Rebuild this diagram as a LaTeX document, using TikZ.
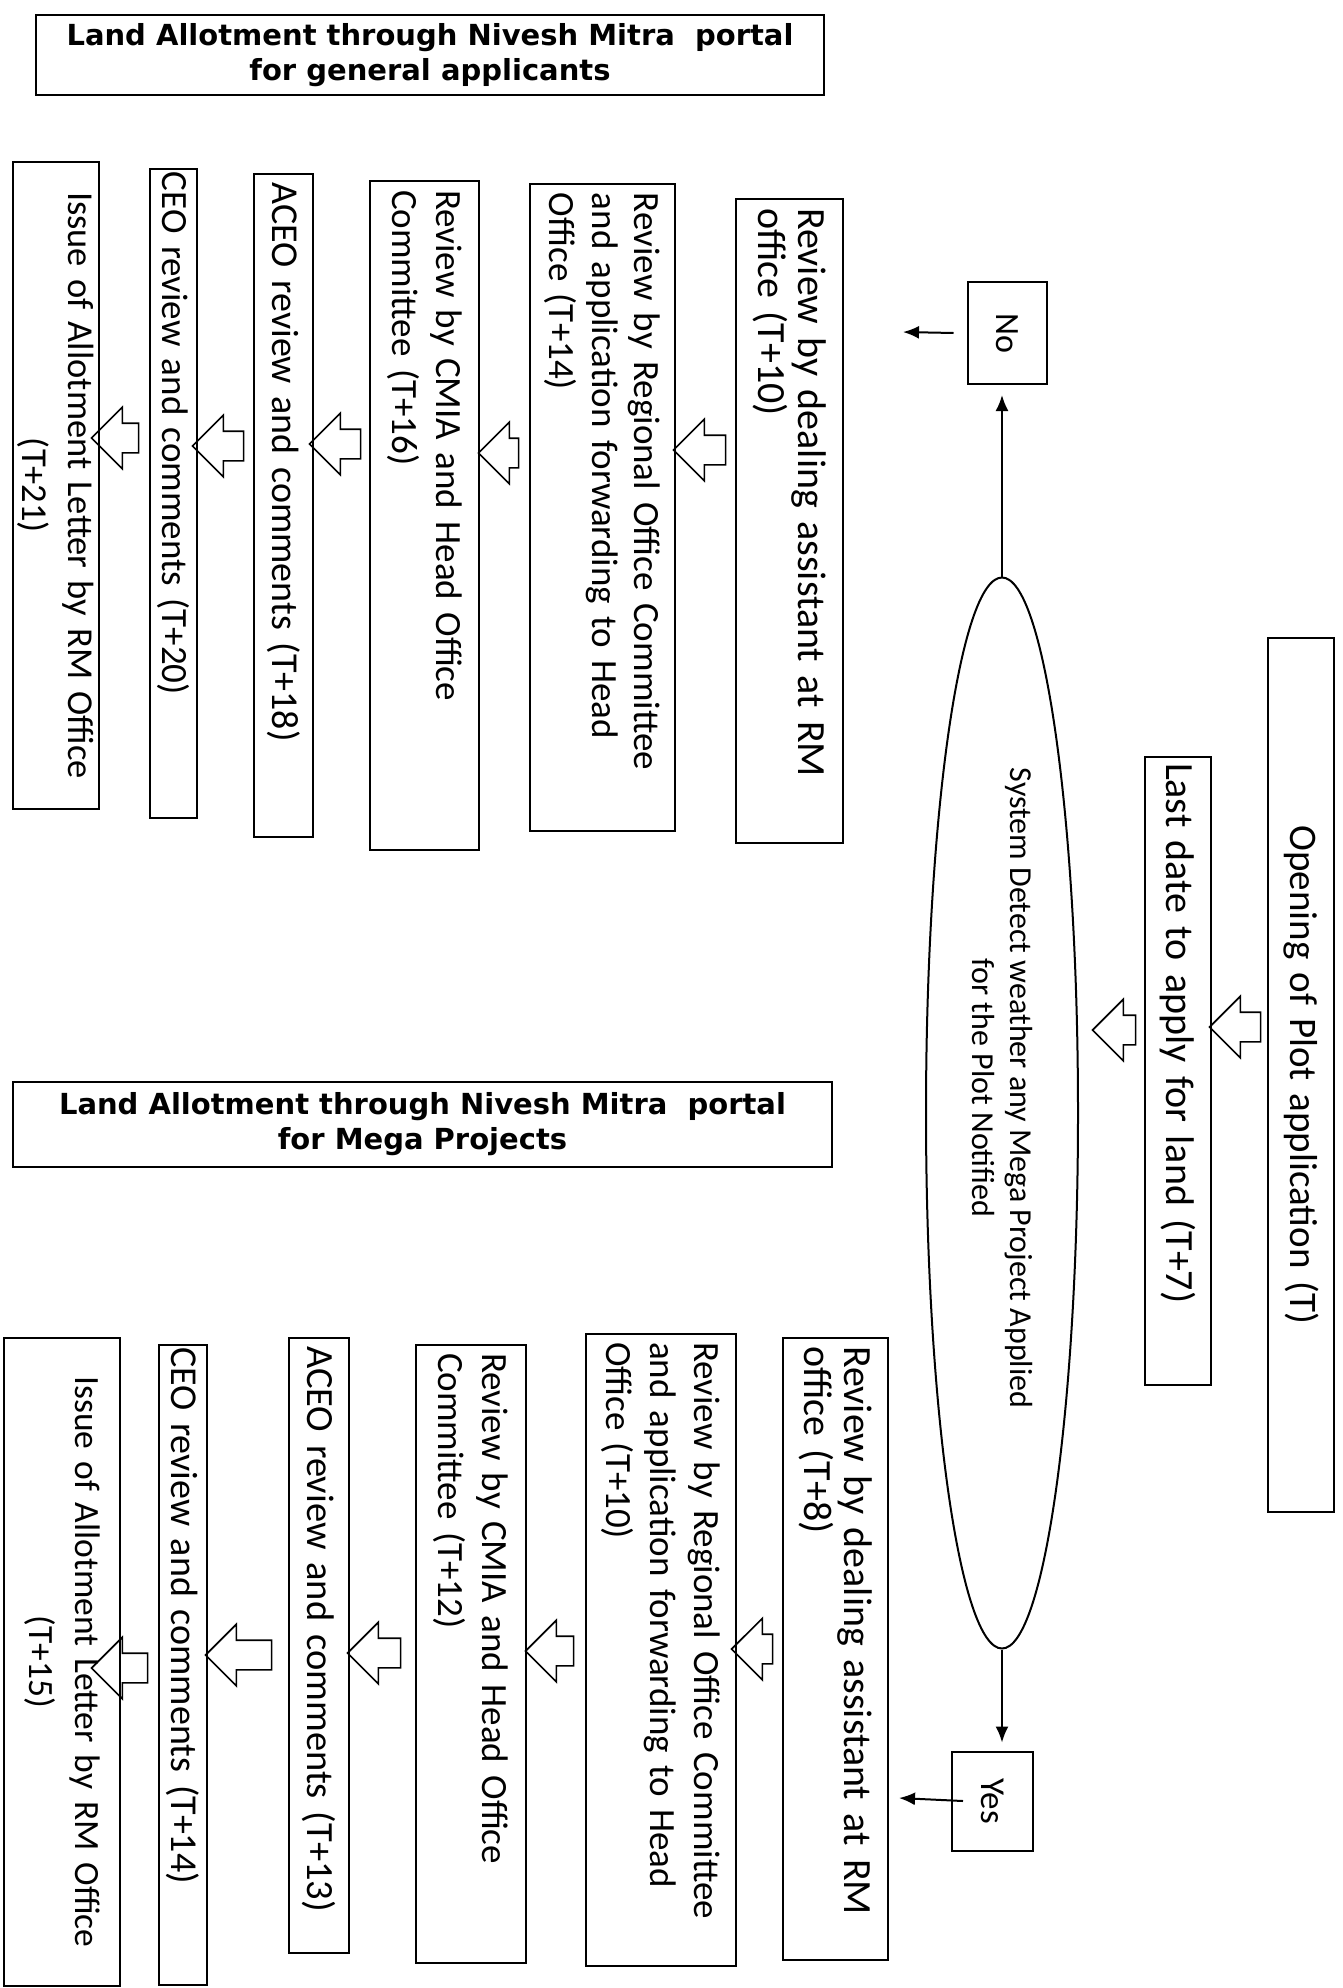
\documentclass[tikz,border=0pt]{standalone}
\usepackage{fontspec}
\setmainfont{Carlito}
\newfontfamily\titlefamily{DejaVu Sans}
\usetikzlibrary{shapes.geometric,shapes.arrows,arrows.meta}
\newcommand\fsz[2]{\fontsize{#1}{#2}\selectfont}
\tikzset{
  box/.style={draw, line width=2pt, rotate=-90, inner xsep=9pt, inner ysep=1pt, align=left},
  cbox/.style={box, align=center},
  titlebox/.style={draw, line width=2pt, inner sep=2pt, font=\titlefamily\bfseries\fsz{29}{35}, align=center},
  hol/.style={single arrow, draw, line width=1.6pt, shape border rotate=180, inner xsep=0pt, inner ysep=14pt, single arrow head extend=16pt, minimum width=0pt},
  ln/.style={line width=2pt, -{Latex[length=16pt,width=13pt]}},
}
\begin{document}
\begin{tikzpicture}[x=1pt,y=-1pt]
\useasboundingbox (0,0) rectangle (1342,1988);
\fill[white] (0,0) rectangle (1342,1988);

% titles
\node[titlebox, minimum width=788pt, minimum height=80pt] (t1) at (430,55) {Land Allotment through Nivesh Mitra\ \ portal\\for general applicants};
\node[titlebox, minimum width=819pt, minimum height=85pt] (t2) at (422.5,1124.5) {Land Allotment through Nivesh Mitra\ \ portal\\for Mega Projects};

% top flow
\node[cbox, font=\fsz{39}{44}, minimum width=874pt, minimum height=66pt, text width=856pt] (open) at (1301,1075) {Opening of Plot application (T)};
\node[box, font=\fsz{40}{44}, minimum width=628pt, minimum height=66pt, text width=616pt, inner xsep=6pt] (last) at (1178,1071) {Last date to apply for land (T+7)};
\node[draw, line width=2pt, ellipse, rotate=-90, inner sep=0pt, minimum width=1071pt, minimum height=152pt, font=\fsz{32}{38}, align=center] (ell) at (1002,1113) {System Detect weather any Mega Project Applied\hspace*{50pt}\\for the Plot Notified\hspace*{50pt}};
\node[hol, minimum height=51pt] (a0) at (1242.5,1027) {};
\node[hol, minimum height=43pt] (a1) at (1121.5,1030) {};

% decision outcomes
\node[cbox, font=\fsz{34}{40}, minimum width=102pt, minimum height=79pt] (no) at (1007,333) {No};
\node[cbox, font=\fsz{35}{40}, minimum width=99pt, minimum height=81pt] (yes) at (992.5,1801) {Yes};
\coordinate (noout) at (903,332);
\coordinate (yesout) at (899,1798);
\draw[ln, shorten >=10pt] (ell.west) -- (ell.west |- no.east);
\draw[ln, shorten >=8pt] (ell.east) -- (ell.east |- yes.west);
\draw[ln] ([xshift=-13pt]no.south) -- (noout);
\draw[ln] ([xshift=12pt]yes.south) -- (yesout);

% general applicants column
\node[box, font=\fsz{40}{40}, minimum width=644pt, minimum height=107pt, text width=626pt] (l1) at (789.5,521) {Review by dealing assistant at RM\\office (T+10)};
\node[box, font=\fsz{37}{42.5}, minimum width=647pt, minimum height=145pt, text width=629pt] (l2) at (602.5,507.5) {Review by Regional Office Committee\\and application forwarding to Head\\Office (T+14)};
\node[box, font=\fsz{37}{44}, minimum width=669pt, minimum height=109pt, text width=651pt] (l3) at (424.5,515.5) {Review by CMIA and Head Office\\Committee (T+16)};
\node[box, font=\fsz{38}{40}, minimum width=663pt, minimum height=59pt, text width=645pt] (l4) at (283.5,505.5) {ACEO review and comments (T+18)};
\node[box, font=\fsz{37}{40}, minimum width=649pt, minimum height=47pt, text width=643pt, inner xsep=3pt] (l5) at (173.5,493.5) {CEO review and comments (T+20)};
\node[cbox, font=\fsz{36.5}{46}, minimum width=647pt, minimum height=86pt, text width=629pt] (l6) at (56,485.5) {Issue of Allotment Letter by RM Office\\(T+21)};
\node[hol, minimum height=52pt] (h1) at (707,450) {};
\node[hol, minimum height=40pt] (h2) at (506,453) {};
\node[hol, minimum height=51pt] (h3) at (342.5,444) {};
\node[hol, minimum height=51pt] (h4) at (225.5,446) {};
\node[hol, minimum height=47pt] (h5) at (122.5,438) {};

% mega projects column
\node[box, font=\fsz{40}{40}, minimum width=622pt, minimum height=105pt, text width=606pt, inner xsep=8pt] (r1) at (835.5,1649) {Review by dealing assistant at RM\\office (T+8)};
\node[box, font=\fsz{37}{44}, minimum width=632pt, minimum height=150pt, text width=616pt, inner xsep=8pt] (r2) at (661,1650) {Review by Regional Office Committee\\and application forwarding to Head\\Office (T+10)};
\node[box, font=\fsz{37}{44}, minimum width=618pt, minimum height=110pt, text width=602pt, inner xsep=8pt] (r3) at (471,1654) {Review by CMIA and Head Office\\Committee (T+12)};
\node[box, font=\fsz{38.5}{40}, minimum width=615pt, minimum height=60pt, text width=599pt, inner xsep=8pt] (r4) at (319,1645.5) {ACEO review and comments (T+13)};
\node[box, font=\fsz{38}{40}, minimum width=640pt, minimum height=48pt, text width=636pt, inner xsep=2pt] (r5) at (183,1665) {CEO review and comments (T+14)};
\node[cbox, font=\fsz{35.5}{46}, minimum width=648pt, minimum height=116pt, text width=630pt] (r6) at (62,1662) {Issue of Allotment Letter by RM Office\\(T+15)};
\node[hol, minimum height=41pt] (g1) at (759.5,1649) {};
\node[hol, minimum height=48pt] (g2) at (557,1651) {};
\node[hol, minimum height=53pt] (g3) at (381.5,1653) {};
\node[hol, minimum height=66pt] (g4) at (246,1655) {};
\node[hol, minimum height=56pt] (g5) at (127,1668) {};
\end{tikzpicture}
\end{document}
